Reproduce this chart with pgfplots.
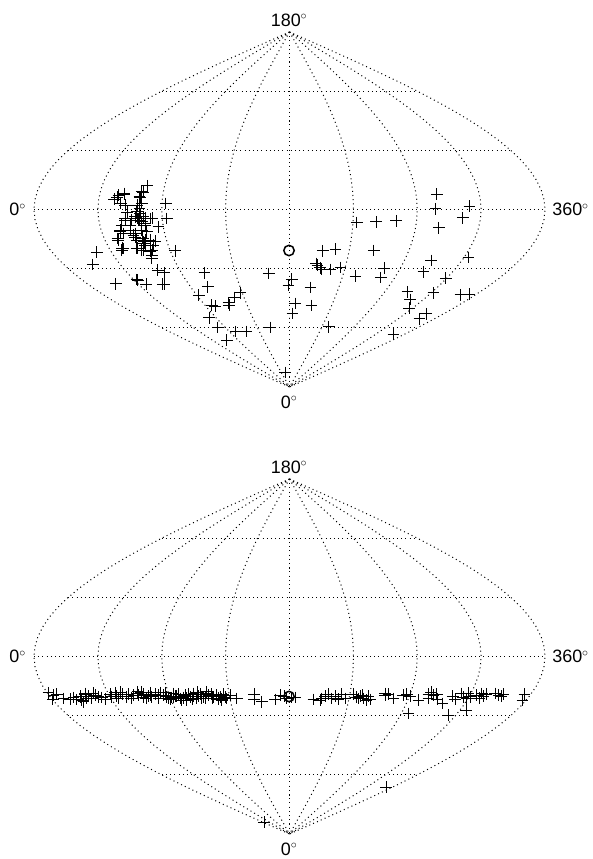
\documentclass[border=0pt]{standalone}
\usepackage{fontspec}
\setmainfont{Liberation Sans}
\usepackage{pgfplots}
\usepackage{pgfplotstable}
\pgfplotsset{compat=1.18}
\pgfplotstableread{
lat c
-90 0
-85 .0872
-80 .1736
-75 .2588
-70 .3420
-65 .4226
-60 .5
-55 .5736
-50 .6428
-45 .7071
-40 .7660
-35 .8192
-30 .8660
-25 .9063
-20 .9397
-15 .9659
-10 .9848
-5 .9962
0 1
5 .9962
10 .9848
15 .9659
20 .9397
25 .9063
30 .8660
35 .8192
40 .7660
45 .7071
50 .6428
55 .5736
60 .5
65 .4226
70 .3420
75 .2588
80 .1736
85 .0872
90 0
}\gridtab
\pgfplotstableread{
x y
147 185.7
165.7 203.3
166.7 218.3
158.3 226.7
175 250.7
96.7 252
92.7 264.3
157.7 270
164 272.7
115.7 283.7
137.7 280
136.7 279.3
146 284
162.7 284
164 284
204.3 272.7
207.7 286.7
198.7 295
211.7 305
215 306
228.3 302.7
229 305
234 297.3
240 292.7
209 317.7
217.7 327.3
226.7 340
235.3 331.3
246 331.3
270 327.3
268.7 273.3
285 372.3
141.7 191.7
139.3 196.7
141.7 203.3
118.3 195
124 193.3
114 199
120.7 203.3
125 205
139.3 208.3
140 213.3
135 216.7
125 218.3
131.7 220
141.7 221.7
150 218.3
145 225
138.3 220
121.7 225
130 225
141.7 230
146.7 231.7
120 231.7
117.3 238.3
123.3 233.3
133.3 235
136.7 240
143.3 241.7
145 240
153.3 245
150 240
123.3 248.3
121.7 250
136.7 248.3
141.7 250
151.7 255
151.7 258.3
150 251
145 245
135 233.3
130 230
143.3 216.7
136.7 211.7
142.7 238
144 243
139 220
145 218
137.3 218.3
117 197
124 194
140 197
143 192
137 205
127 212
125 220
152 218
145 223
120 230
118 240
122 248
135 237
137 248
143 250
155 241
145 241
152 250
436.7 194
435.3 208.7
469.3 206
462.7 217.7
438.7 227.7
356.7 222.3
376 221.7
396 220.7
335.3 249
322.7 250.7
373.7 250.3
468.3 257.3
431 260.3
316 263.3
317.3 265
320 267.7
321.7 269
330 269.3
340.3 267.3
384 268
423.3 271.7
355.3 276
380.7 277.3
445.7 278
291.7 279
288.3 285
310.3 287.3
407.3 291.7
433.3 292.7
460.3 294.7
469.3 294
410 299.3
295 303.3
311.3 305.3
409 308
292.3 313.3
426 313.7
419.3 318.7
328.7 326.7
393.3 334
}\toppts
\pgfplotstableread{
x y
48.3 692.7
53.3 695
56.7 694
52.7 699.3
63.3 698.3
73.3 697.3
80 696.7
81.7 700
85 693.3
83.3 701.7
88.3 696
95 695
91.7 698.3
98.3 696.7
101.7 697.3
110 694
115 692.7
116.7 696
111.7 696.7
126.7 696.7
128.3 694
133.3 695
137.3 691.7
138.3 695
143.3 694
150 692.7
151.7 696.7
155 694
158.3 698.3
160.7 692.7
163.3 695
166.7 696.7
170 699.3
173.3 693.3
176.7 696
180 698.3
181.7 700
185 695
186.7 700
190 696.7
193.3 693.3
196.7 698.3
200 694
203.3 696.7
206.7 691.7
208.3 695
213.3 696.7
216.7 695
218.3 699.3
220.7 696.7
223.3 694
226.7 698.3
230 695
236.7 698.3
254 694
254 699.3
261.7 701.7
275 699.3
280 695
284 696
286.7 698.3
178.3 694
171.7 697.3
183.3 697.3
143.3 697.3
148.3 696
211.7 694
221.7 700
86.7 698.3
76.7 699.3
80 696
85 694
137.3 693
150 695
155 694
165 692.5
175 696
183.3 698
186.7 698
193.3 696
198.3 696
201.7 698
206.7 693
218.3 698
221.7 699
158 695
168 698
173 697
188 694
192 699
197 692
205 698
212 698
225 697
122 694
118 698
105 699
70 699
93 693
120 692
131 698
146 698
141 692
291.7 697.3
295 697.3
313.3 699.3
321.7 698.3
325 696
331.7 698.3
335 696
341.7 694
345 698.3
353.3 694
358.3 698.3
360 696
363.3 698.3
368.3 696
370 699.3
385 693.3
388.3 694
393.3 698.3
406.7 694
410 696
408.3 713.3
418.3 700
428.3 698.3
428.3 694
433.3 695
436.7 694
442.3 703.3
448.3 715
452.7 696
461.7 693.3
466.7 698.3
466 710
470 696.7
476.7 695
481.7 693.3
483.3 696
495 693.3
498.3 695
503.3 694
524.3 694
522.3 700
320 700
328 694
338 699
356 697
362 695
366 700
385 695
403 695
437 699
431 692
455 699
463 697
468 693
479 698
486 694
501 696
386 787
264 822
}\botpts
\pgfplotstableread{
x y
289 250.5
}\topsun
\pgfplotstableread{
x y
289 696.5
}\botsun
\newcommand\mer[2]{\addplot[gridl] table[x expr=289.5+(#2)*\thisrow{c}, y expr=#1+177.5*\thisrow{lat}/90] {\gridtab};}
\newcommand\para[3]{\addplot[gridl] coordinates {({289.5-#3},{#1+#2}) ({289.5+#3},{#1+#2})};}
\newcommand\graticule[1]{%
  \mer{#1}{-255.5}\mer{#1}{-191.6}\mer{#1}{-127.75}\mer{#1}{-63.9}\mer{#1}{0}%
  \mer{#1}{63.9}\mer{#1}{127.75}\mer{#1}{191.6}\mer{#1}{255.5}%
  \para{#1}{-118.3}{127.75}\para{#1}{-59.2}{221.3}\para{#1}{0}{255.5}%
  \para{#1}{59.2}{221.3}\para{#1}{118.3}{127.75}%
  \node[lab] at (axis cs:289,{#1-189.5}) {180$^\circ$};
  \node[lab] at (axis cs:289,{#1+192.5}) {0$^\circ$};
  \node[lab] at (axis cs:17.5,#1) {0$^\circ$};
  \node[lab] at (axis cs:570.5,#1) {360$^\circ$};
}
\tikzset{lab/.style={font=\fontsize{18}{20}\selectfont, inner sep=0pt}}
\pgfplotsset{
  gridl/.style={black, line width=1bp, dash pattern=on 1bp off 3.2bp, no markers, forget plot},
  pano/.style={hide axis, scale only axis, clip=false, width=593bp, y dir=reverse, xmin=0, xmax=593},
  crosses/.style={only marks, mark=+, mark size=5.8bp, black, mark options={line width=0.85bp}},
  sun/.style={only marks, mark=o, mark size=5.2bp, black, mark options={line width=1.5bp}},
}
\begin{document}
\begin{tikzpicture}[x=1bp,y=1bp]
\path[use as bounding box] (0,-429) rectangle (593,430);
\begin{axis}[pano, at={(0,0)}, anchor=south west, height=430bp, ymin=0, ymax=430]
\graticule{209.5}
\addplot[crosses] table[x=x,y=y] {\toppts};
\addplot[sun] table[x=x,y=y] {\topsun};
\end{axis}
\begin{axis}[pano, at={(0,0)}, anchor=north west, height=429bp, ymin=430, ymax=859]
\graticule{656.5}
\addplot[crosses] table[x=x,y=y] {\botpts};
\addplot[sun] table[x=x,y=y] {\botsun};
\end{axis}
\end{tikzpicture}
\end{document}
